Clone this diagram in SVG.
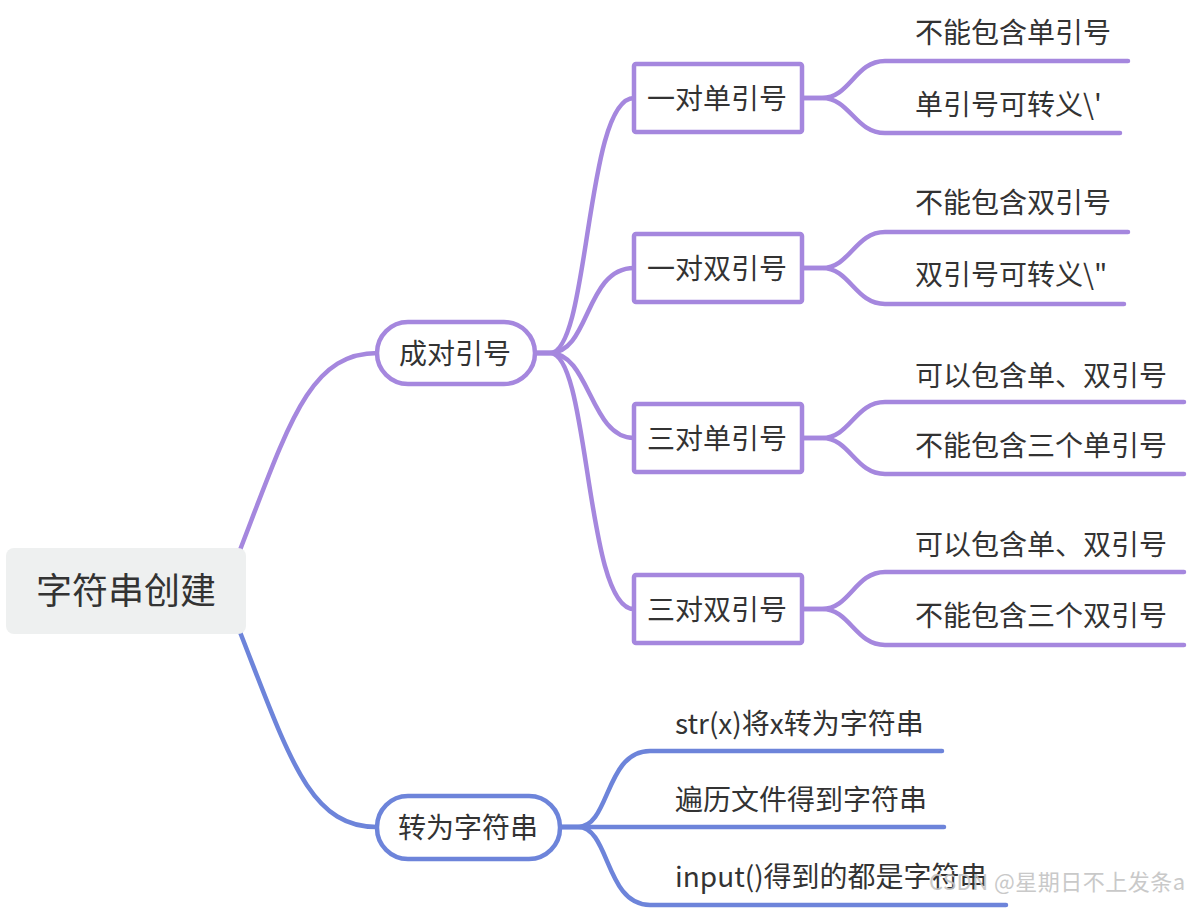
<svg xmlns="http://www.w3.org/2000/svg" width="1188" height="910" viewBox="0 0 1188 910">
<style>
.t{font-family:"Microsoft YaHei","Noto Sans CJK SC","Noto Sans",sans-serif;font-size:28px;fill:#333333}
.c{text-anchor:middle}
.p{fill:none;stroke:#a587de;stroke-width:4.5;stroke-linecap:round}
.b{fill:none;stroke:#6d84da;stroke-width:4.5;stroke-linecap:round}
.bp{fill:#ffffff;stroke:#a587de;stroke-width:4.5}
.bb{fill:#ffffff;stroke:#6d84da;stroke-width:4.5}
</style>
<rect width="1188" height="910" fill="#ffffff"/>
<g id="connectors">
<path class="p" d="M240,550 C290,420 310,353 378,353"/>
<path class="b" d="M240,632 C290,760 310,827 377,827"/>
<path class="p" d="M535,353 L550,353 C590,353 585,98 634,98"/>
<path class="p" d="M535,353 L550,353 C590,353 585,268 634,268"/>
<path class="p" d="M535,353 L550,353 C590,353 590,438 634,438"/>
<path class="p" d="M535,353 L550,353 C590,353 585,609 634,609"/>
<path class="p" d="M803,98 L822,98 C850,98 855,61 885,61 L1128,61"/>
<path class="p" d="M803,98 L822,98 C850,98 855,133 885,133 L1120,133"/>
<path class="p" d="M803,268 L822,268 C850,268 855,232 885,232 L1128,232"/>
<path class="p" d="M803,268 L822,268 C850,268 855,304 885,304 L1124,304"/>
<path class="p" d="M803,438 L822,438 C850,438 855,402 885,402 L1184,402"/>
<path class="p" d="M803,438 L822,438 C850,438 855,474 885,474 L1184,474"/>
<path class="p" d="M803,609 L822,609 C850,609 855,572 885,572 L1184,572"/>
<path class="p" d="M803,609 L822,609 C850,609 855,645 885,645 L1184,645"/>
<path class="b" d="M560,827 L578,827 C610,827 605,751 650,751 L942,751"/>
<path class="b" d="M560,827 L944,827"/>
<path class="b" d="M560,827 L578,827 C610,827 605,905 650,905 L1006,905"/>
</g>
<g id="root">
<rect x="6" y="548" width="240" height="86" rx="8" fill="#eef0f0"/>
<text class="t c" x="126" y="604" style="font-size:36px">字符串创建</text>
</g>
<g id="n-chengdui">
<rect class="bp" x="377" y="322" width="158" height="62" rx="31"/>
<text class="t c" x="455" y="364">成对引号</text>
</g>
<g id="n-zhuanwei">
<rect class="bb" x="377" y="796" width="183" height="63" rx="31"/>
<text class="t c" x="468" y="838">转为字符串</text>
</g>
<g id="n-yidui-dan">
<rect class="bp" x="634" y="64" width="168" height="68" rx="2"/>
<text class="t c" x="717" y="109">一对单引号</text>
</g>
<g id="n-yidui-shuang">
<rect class="bp" x="634" y="234" width="168" height="68" rx="2"/>
<text class="t c" x="717" y="279">一对双引号</text>
</g>
<g id="n-sandui-dan">
<rect class="bp" x="634" y="404" width="168" height="68" rx="2"/>
<text class="t c" x="717" y="449">三对单引号</text>
</g>
<g id="n-sandui-shuang">
<rect class="bp" x="634" y="575" width="168" height="68" rx="2"/>
<text class="t c" x="717" y="620">三对双引号</text>
</g>
<g id="leaves">
<text class="t" x="915" y="43">不能包含单引号</text>
<text class="t" x="915" y="115">单引号可转义\'</text>
<text class="t" x="915" y="213">不能包含双引号</text>
<text class="t" x="915" y="285">双引号可转义\"</text>
<text class="t" x="915" y="386">可以包含单、双引号</text>
<text class="t" x="915" y="456">不能包含三个单引号</text>
<text class="t" x="915" y="555">可以包含单、双引号</text>
<text class="t" x="915" y="626">不能包含三个双引号</text>
<text class="t" x="675" y="734">str(x)将x转为字符串</text>
<text class="t" x="675" y="810">遍历文件得到字符串</text>
<text class="t" x="675" y="887">input()得到的都是字符串</text>
</g>
<text x="929" y="890" style="font-family:'Noto Sans CJK SC','Noto Sans',sans-serif;font-size:22px;fill:#c4c4c4;opacity:0.9;letter-spacing:0.5px">CSDN @星期日不上发条a</text>
</svg>
